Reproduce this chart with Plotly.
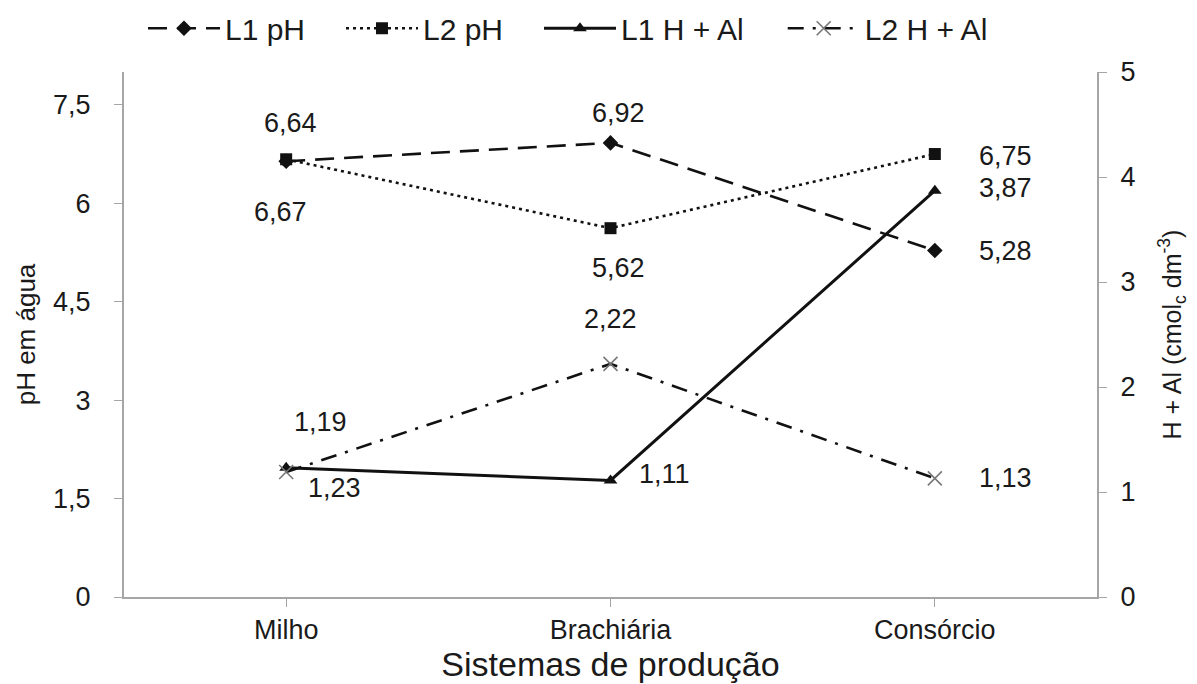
import plotly.graph_objects as go

categories = ["Milho", "Brachiária", "Consórcio"]
l1_ph = [6.64, 6.92, 5.28]
l2_ph = [6.67, 5.62, 6.75]
l1_hal = [1.23, 1.11, 3.87]
l2_hal = [1.19, 2.22, 1.13]

# label placement per point: (xanchor, xshift, yshift)
lab_l1_ph = [("center", 4, 38), ("center", 8, 30), ("left", 42, 0)]
lab_l2_ph = [("center", -6, -53), ("center", 8, -40), ("left", 42, -2)]
lab_l1_hal = [("left", 20, -20), ("left", 26, 6), ("left", 42, 3)]
lab_l2_hal = [("left", 6, 50), ("center", 0, 45), ("left", 42, 0)]

FONT = "Liberation Sans, Arial, sans-serif"
TXT = "#1a1a1a"
AX = "#a6a6a6"
FS = 27


def fmt(v):
    return f"{v:.2f}".replace(".", ",")


fig = go.Figure()
fig.add_trace(go.Scatter(
    x=categories, y=l1_ph, name="L1 pH", mode="lines+markers", legend="legend",
    line=dict(color="#111111", width=2.6, dash="19px,10px"),
    marker=dict(symbol="diamond", size=12, color="#111111"),
))
fig.add_trace(go.Scatter(
    x=categories, y=l2_ph, name="L2 pH", mode="lines+markers", legend="legend2",
    line=dict(color="#111111", width=2.6, dash="3px,4px"),
    marker=dict(symbol="square", size=12, color="#111111"),
))
fig.add_trace(go.Scatter(
    x=categories, y=l1_hal, name="L1 H + Al", mode="lines+markers", legend="legend3",
    yaxis="y2",
    line=dict(color="#111111", width=3),
    marker=dict(symbol="triangle-up", size=12, color="#111111"),
))
fig.add_trace(go.Scatter(
    x=categories, y=l2_hal, name="L2 H + Al", mode="lines+markers", legend="legend4",
    yaxis="y2",
    line=dict(color="#111111", width=2.6, dash="16px,9px,3px,9px"),
    marker=dict(symbol="x-thin", size=14, color="#777777",
                line=dict(color="#777777", width=1.6)),
))

annotations = []
for vals, labs, yref in [(l1_ph, lab_l1_ph, "y"), (l2_ph, lab_l2_ph, "y"),
                         (l1_hal, lab_l1_hal, "y2"), (l2_hal, lab_l2_hal, "y2")]:
    for cat, v, (xa, xs, ys) in zip(categories, vals, labs):
        annotations.append(dict(
            x=cat, y=v, xref="x", yref=yref, text=fmt(v), showarrow=False,
            xanchor=xa, yanchor="middle", xshift=xs, yshift=ys,
            font=dict(size=FS, color=TXT, family=FONT),
        ))


def leg(x):
    return dict(orientation="h", x=x, y=0.97, yref="container",
                yanchor="middle", xanchor="left",
                font=dict(size=30, color=TXT),
                itemwidth=72, bgcolor="rgba(0,0,0,0)")


fig.update_layout(
    width=1189, height=676,
    margin=dict(l=116, r=100, t=64, b=87, autoexpand=False),
    paper_bgcolor="white", plot_bgcolor="white",
    font=dict(family=FONT, color=TXT, size=FS),
    showlegend=True,
    annotations=annotations,
    legend=leg(0.0195),
    legend2=leg(0.223),
    legend3=leg(0.4265),
    legend4=leg(0.677),
    xaxis=dict(
        type="category", range=[-0.5, 2.5], automargin=False,
        showline=True, linecolor=AX, linewidth=2,
        ticks="outside", ticklen=8, tickcolor=AX,
        showgrid=False, zeroline=False,
        tickfont=dict(size=FS, color=TXT),
        title=dict(text="Sistemas de produção", font=dict(size=34, color=TXT), standoff=8),
    ),
    yaxis=dict(
        range=[0, 8], tickvals=[0, 1.5, 3, 4.5, 6, 7.5], automargin=False,
        ticktext=["0", "1,5", "3", "4,5", "6", "7,5"],
        showline=True, linecolor=AX, linewidth=2,
        ticks="outside", ticklen=8, tickcolor=AX, ticklabelstandoff=18,
        showgrid=False, zeroline=False,
        tickfont=dict(size=FS, color=TXT),
        title=dict(text="pH em água", font=dict(size=26, color=TXT), standoff=10),
    ),
    yaxis2=dict(
        overlaying="y", side="right", range=[0, 5], dtick=1, automargin=False,
        showline=True, linecolor=AX, linewidth=2,
        ticks="outside", ticklen=8, tickcolor=AX, ticklabelstandoff=8,
        showgrid=False, zeroline=False,
        tickfont=dict(size=FS, color=TXT),
        title=dict(text="H + Al (cmol<sub>c</sub> dm<sup>-3</sup>)",
                   font=dict(size=25, color=TXT), standoff=29),
    ),
)

fig.write_html("out.html")
